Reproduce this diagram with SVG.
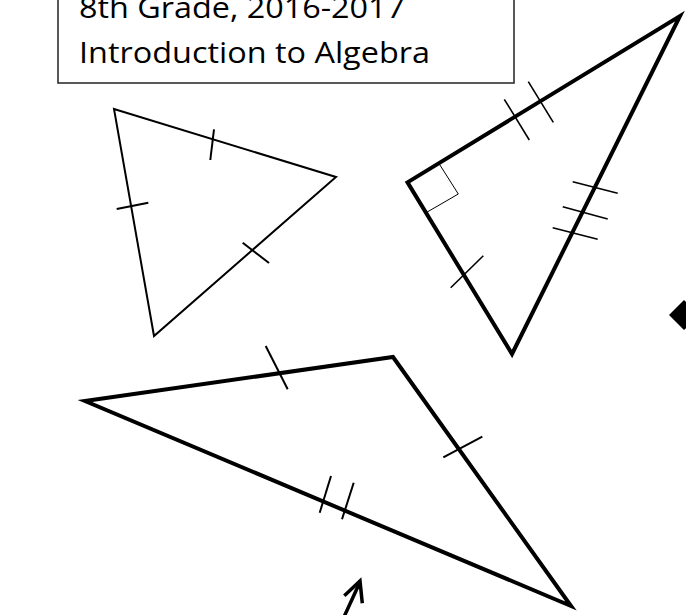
<svg xmlns="http://www.w3.org/2000/svg" width="686" height="615" viewBox="0 0 686 615">
<style>
.t{font-family:"Open Sans","Liberation Sans",sans-serif;font-size:30px;fill:#000}
.thin{fill:none;stroke:#000;stroke-width:2}
.thick{fill:none;stroke:#000;stroke-width:4}
.tick{fill:none;stroke:#000;stroke-width:2}
.tick2{fill:none;stroke:#000;stroke-width:1.6}
</style>
<rect width="686" height="615" fill="#fff"/>
<g id="title">
<rect x="58" y="-10" width="456" height="93" fill="#fff" stroke="#222" stroke-width="1.5"/>
<text class="t" x="79" y="18" textLength="326" lengthAdjust="spacingAndGlyphs">8th Grade, 2016-2017</text>
<text class="t" x="79" y="63" textLength="351" lengthAdjust="spacingAndGlyphs">Introduction to Algebra</text>
</g>
<g id="triangle-equilateral">
<polygon class="thin" points="114,109 336,177 154,336"/>
<line class="tick" x1="214" y1="129.3" x2="210.3" y2="160"/>
<line class="tick" x1="116.7" y1="209" x2="148.3" y2="202.7"/>
<line class="tick" x1="242.7" y1="242.7" x2="269" y2="263"/>
</g>
<g id="triangle-right">
<polygon class="thick" points="407.5,182.4 680,16 512,354"/>
<polyline fill="none" stroke="#000" stroke-width="1" points="439.3,164 458.3,194 425,213.3"/>
<line class="tick2" x1="504.3" y1="99.3" x2="529.3" y2="140"/>
<line class="tick2" x1="528.3" y1="81.7" x2="553.3" y2="122.3"/>
<line class="tick2" x1="572.7" y1="181.7" x2="617.7" y2="193.3"/>
<line class="tick2" x1="562.7" y1="206.7" x2="607.7" y2="219"/>
<line class="tick2" x1="552.7" y1="227.7" x2="597.7" y2="239.3"/>
<line class="tick2" x1="483.3" y1="255.7" x2="450.7" y2="287.7"/>
</g>
<g id="triangle-obtuse">
<polygon class="thick" points="85,401 393,357 571,606"/>
<line class="tick" x1="265.7" y1="346" x2="287.7" y2="389.3"/>
<line class="tick" x1="443.3" y1="457.3" x2="482.3" y2="436.7"/>
<line class="tick" x1="331" y1="476" x2="319.7" y2="512.7"/>
<line class="tick" x1="353.7" y1="482.7" x2="342" y2="519.3"/>
</g>
<g id="edge-marker">
<polygon points="669,315 684,300 700,315 684,330" fill="#000"/>
</g>
<g id="connectors">
<line x1="338" y1="630" x2="360" y2="582" stroke="#000" stroke-width="3.5"/>
<polyline points="344.3,595.7 360,581 362.3,603.3" fill="none" stroke="#000" stroke-width="3.5"/>
</g>
</svg>
